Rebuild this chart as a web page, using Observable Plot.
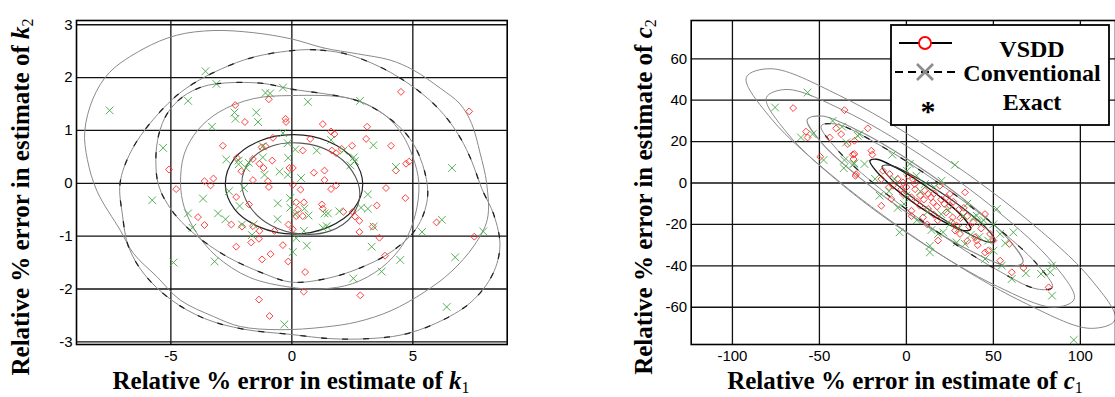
<!DOCTYPE html>
<html><head><meta charset="utf-8">
<script src="https://cdn.jsdelivr.net/npm/d3@7"></script>
<script src="https://cdn.jsdelivr.net/npm/@observablehq/plot@0.6"></script>
<style>
body{margin:0;background:#fff;}
#wrap{position:relative;width:1115px;height:397px;overflow:hidden;background:#fff;}
#wrap > svg{position:absolute;top:0;}
</style></head><body><div id="wrap"></div>
<script>
// ---------- Left panel: k1 / k2 ----------
const kTicksX = [-5, 0, 5];
const kTicksY = [-3, -2, -1, 0, 1, 2, 3];
const kVsdd = [[-2.34,1.48],[-0.95,1.59],[-1.94,1.16],[-0.26,1.22],[-0.24,1.16],[-0.78,0.86],[-2.85,0.71],[-1.25,0.68],[-1.09,0.70],[-2.27,0.48],[-1.61,0.46],[-1.34,0.37],[-1.17,0.29],[-0.81,0.43],[-2.09,0.23],[-0.1,0.29],[-5.08,0.26],[-3.61,0.04],[-3.24,0.09],[-1.61,0.06],[-0.99,0.04],
[4.51,1.73],[7.33,1.36],[1.28,1.12],[1.62,0.98],[1.76,0.93],[3.11,1.07],[0.76,0.84],[3.07,0.84],[2.49,0.71],[0.45,0.62],[1.65,0.62],[2.06,0.65],[1.83,0.57],[4.1,0.71],[4.72,0.37],[4.85,0.41],[4.3,0.24],[0.04,0.29],[0.91,0.2],[1.35,0.24],[1.35,0.06],
[-4.78,-0.11],[-3.36,-0.04],[-3.88,-0.64],[-3.61,-0.79],[-2.5,-0.78],[-2.06,-0.82],[-1.77,-0.4],[-2.3,-0.26],[-1.61,-0.81],[-1.34,-0.9],[-1.36,-1.05],[-1.68,-1.12],[-2.3,-1.2],[-0.72,-0.9],[-0.37,-1.17],[-0.14,-0.78],[-1.23,-1.44],[-0.88,-1.34],[-0.15,-1.48],[-1.36,-2.2],[-0.92,-2.51],[-0.95,-0.07],
[0.04,-0.03],[0.36,-0.12],[0.18,-0.36],[0.5,-0.36],[0.18,-0.62],[0.45,-0.62],[0.25,-0.5],[0.04,-0.87],[1.62,-0.11],[1.83,-0.04],[1.24,-0.4],[1.28,-0.48],[2.13,-0.54],[2.52,-0.54],[2.61,-0.63],[2.79,-0.71],[3.34,-0.82],[2.79,-0.92],[3.51,-0.42],[3.89,-0.09],[4.69,-0.28],[3.62,-1.03],[3.85,-1.37],[0.55,-1.68],[0.49,-2.05],[2.83,-2.12],[5.98,-0.74],[7.54,-1.01]];
const kConv = [[-3.57,2.12],[-3.12,1.88],[-4.29,1.56],[-7.53,1.38],[-1.09,1.71],[-0.9,1.70],[-0.37,1.81],[-2.37,1.34],[-2.33,1.22],[-1.47,1.34],[-1.40,1.16],[-3.3,1.07],[-0.37,0.95],[-5.32,0.67],[-1.2,0.70],[-0.17,0.76],[-2.71,0.45],[-2.2,0.43],[-2.2,0.36],[-1.78,0.39],[-1.89,0.29],[-1.2,0.49],[-0.51,0.22],[-0.15,0.48],[-0.17,0.16],[-1.13,0.16],
[0.66,1.54],[2.82,1.56],[1.62,0.82],[3.37,0.72],[0.14,0.64],[1.03,0.62],[2.56,0.49],[2.42,0.34],[2.61,0.42],[2.14,0.62],[4.3,0.31],[6.62,0.29],[0.38,0.1],
[-5.77,-0.32],[-3.67,-0.29],[-4.29,-0.57],[-4.11,-0.84],[-3.05,-0.57],[-2.74,-0.68],[-2.6,-0.15],[-2.16,-0.43],[-1.98,-0.09],[-2.06,-0.78],[-1.58,-0.78],[-1.65,-0.98],[-0.58,-0.38],[-0.59,-0.68],[-0.07,-0.28],[-0.06,-0.46],[-4.89,-1.5],[-3.19,-1.48],[-0.31,-2.67],
[0.52,-0.48],[0.69,-0.61],[0.14,-0.59],[1.35,-0.57],[1.49,-0.57],[1.96,-0.53],[2.86,-0.46],[3.14,-0.48],[3.14,-0.21],[1.28,-0.84],[1.44,-0.81],[0.5,-0.9],[0.18,-1.04],[0.04,-1.3],[0.62,-1.18],[3.38,-0.82],[3.3,-1.2],[4.48,-1.45],[3.71,-1.67],[2.54,-1.8],[5.38,-0.92],[6.2,-0.69],[7.91,-0.91],[6.75,-1.4],[6.4,-2.34]];
// contour vertices
const kOuterA = [[0,2.73],[1.32,2.56],[2.7,2.45],[4.07,2.33],[5.03,2.14],[6.13,1.8],[6.95,1.5],[7.43,1.13],[7.78,0.57],[8.05,0.0],[8.08,-0.68],[7.53,-1.18],[6.57,-1.68],[5.47,-2.06],[4.1,-2.41],[2.72,-2.62],[1.35,-2.72],[-0.48,-2.77],[-2.13,-2.71],[-3.24,-2.52],[-4.61,-2.21],[-5.57,-1.77],[-6.54,-1.33],[-7.09,-0.89],[-8.05,-0.15],[-8.45,0.45],[-8.56,0.98],[-8.21,1.61],[-7.53,2.1],[-6.15,2.54],[-4.77,2.8],[-3.26,2.89],[-1.6,2.85]];
const kOuterB = [[0,2.51],[1.2,2.52],[2.45,2.42],[4.07,2.1],[5.45,1.67],[6.28,1.3],[6.95,0.87],[7.45,0.4],[7.85,-0.1],[8.35,-0.6],[8.6,-1.18],[8.3,-1.72],[7.4,-2.25],[5.95,-2.65],[4.51,-2.87],[3.14,-2.94],[1.62,-2.94],[-0.03,-2.86],[-2.0,-2.76],[-3.6,-2.56],[-5.0,-2.2],[-6.1,-1.72],[-6.75,-1.2],[-7.0,-0.6],[-7.1,0.0],[-6.65,0.6],[-5.74,1.2],[-4.36,1.8],[-2.0,2.33]];
const kMidA = [[0,1.66],[2.45,1.6],[3.82,1.3],[4.55,0.93],[5.0,0.5],[5.25,0.0],[5.1,-0.6],[4.6,-1.15],[3.7,-1.6],[2.5,-1.9],[1.2,-2.0],[0,-1.97],[-1.75,-1.78],[-3.12,-1.38],[-3.95,-0.93],[-4.45,-0.45],[-4.6,0],[-4.45,0.55],[-3.9,1.0],[-3.0,1.35],[-1.6,1.6]];
const kMidB = [[-0.1,1.79],[-1.2,1.89],[-2.71,1.9],[-3.67,1.83],[-4.5,1.64],[-5.15,1.32],[-5.5,0.92],[-5.62,0.45],[-5.5,-0.05],[-4.95,-0.52],[-4.05,-0.95],[-2.71,-1.38],[-1.2,-1.7],[-0.03,-1.87],[1.35,-1.81],[2.72,-1.62],[4.1,-1.3],[5.15,-0.85],[5.6,-0.3],[5.5,0.2],[4.95,0.8],[4.05,1.22],[2.72,1.56]];
const kInA = [[2.93,-0.02],[2.55,0.45],[1.51,0.79],[0.09,0.92],[-1.33,0.8],[-2.37,0.47],[-2.75,-0.02],[-2.37,-0.49],[-1.33,-0.83],[0.09,-0.96],[1.51,-0.83],[2.55,-0.49]];
const kInB = [[2.81,-0.2],[2.48,0.24],[1.59,0.6],[0.37,0.76],[-0.85,0.7],[-1.74,0.42],[-2.07,0.0],[-1.74,-0.44],[-0.85,-0.8],[0.37,-0.96],[1.59,-0.9],[2.48,-0.62]];

// ---------- Right panel: c1 / c2 ----------
const cTicksX = [-100, -50, 0, 50, 100];
const cTicksY = [-60, -40, -20, 0, 20, 40, 60];
const cVsdd = [[-65.1,36.2],[-35.6,35.2],[-57.7,24.8],[-56.8,22],[-44.1,22],[-40.4,26.4],[-37.5,23.6],[-33.7,18.8],[-29.9,20.4],[-49.5,12.7],[-30.8,13.7],[-30.4,11.6],[-29.3,3.5],
[-22.2,26.4],[-29.9,14],[-20.2,15.6],[-19.6,13.7],[-28.9,4.3],[-13.5,5.9],[-14.4,1.9],[-9.6,4.3],[-2,0.3],[0.96,3.5],[3.8,1.9],[4.8,-0.5],[10.6,-3.7],[12.5,-5.3],[19.2,-1.3],[25,-5.3],[33.7,-4.5],[-7.7,-1.3],
[-14.4,-11],[-8.7,-7.7],[-2,-5.3],[2.9,-6.9],[2.9,-13.4],[7.7,-11],[9.6,-16.6],[12.5,-12.5],[15.4,-9.4],[17.7,-11.4],[21.8,-10.1],[25,-11],[22.8,-14.2],[26.6,-16.6],[15.8,-15.3],[18.2,-27.8],[26,-19],[28.9,-20.6],[30.8,-24.6],[38.5,-19],[39.4,-26.2],[40.4,-27.8],[45.2,-15],[48.1,-24.6],[50,-27.8],[45.2,-33.5],[47,-32.7],[53.9,-37.5],[59.2,-29.4],[60.6,-43.1],[67.3,-41],[81.8,-50.4],
[-5,2],[0,-2],[5,-3],[8,-6],[10,-8],[14,-7],[16,-5],[20,-8],[23,-7],[27,-9],[30,-13],[33,-12],[35,-16],[36,-21],[31,-17],[18,-18],[12,-20],[6,-9],[-3,-3],[-10,-2],[3,-16],[28,-23],[43,-22],[41,-30],[35,-28]];
const cConv = [[-56.8,43.7],[-75.5,36.5],[-60.6,22],[-53.9,23.6],[-42.4,30],[-37,27.2],[-34.6,19.6],[-28,22.8],[-47.6,11.1],[-35.6,11.1],[-36,7.2],[-29.9,9.5],
[-27,23.6],[-30.4,9.2],[-24.1,9.2],[-8.1,13.7],[1.9,9.2],[0.35,5.9],[27.9,8.8],[5.8,3.5],[-6.8,1.9],[20.2,1.1],[10.6,-0.5],
[-15.4,-6.1],[-3.9,-23.8],[-1.4,-10.1],[13.5,-30.3],[13.5,-33.5],[14.4,-22.7],[18.2,-24.6],[21.1,-23.8],[28.9,-28.7],[33.7,-29.4],[25,-19.8],[32.7,-15.8],[38.5,-16.6],[40.4,-15.8],[43.3,-19],[44.3,-17.9],[47,-27.8],[52,-12.5],[53.9,-24.6],[56.8,-29.1],[45.2,-36.7],[50,-32.7],[54.8,-39.9],[61.5,-23.8],[60.6,-46.3],[68.7,-43.6],[77.4,-43.9],[83.7,-39.9],[82.7,-43.1],[83.7,-54.4],[96.2,-75.8],
[-18,2],[-10,-4],[0,-6],[8,-4],[12,-14],[20,-15],[24,-13],[30,-22],[37,-25],[42,-26],[6,-18],[-5,-12],[16,-2],[35,-10],[50,-20]];
const cOuterA = [[120,-66],[105.8,-46.2],[67,-16],[14,16.5],[-39,42.5],[-77.8,55.2],[-92,51],[-77.8,31.2],[-39,1.0],[14,-31.5],[67,-57.5],[105.8,-70.2]];
const cOuterB = [[96.5,-56],[84.6,-39],[52.25,-13.5],[8,13.6],[-36.25,35.1],[-68.6,45.2],[-80.5,41.2],[-68.6,24.2],[-36.25,-1.3],[8,-28.4],[52.25,-49.9],[84.6,-60]];
const cMidA = [[67,-38.3],[58.7,-27.2],[36,-9.8],[5,9.1],[-26,24.6],[-48.7,32.4],[-57,30.5],[-48.7,19.4],[-26,2.0],[5,-16.9],[36,-32.4],[58.7,-40.2]];
const cMidB = [[84,-50.4],[75.1,-39.2],[50.75,-20.5],[17.5,0.6],[-15.75,18.5],[-40.1,28.4],[-49,27.6],[-40.1,16.4],[-15.75,-2.3],[17.5,-23.4],[50.75,-41.3],[75.1,-51.2]];
const cInA = [[37,-22.2],[33.1,-17],[22.5,-8.75],[8,0.25],[-6.5,7.65],[-17.1,11.5],[-21,10.7],[-17.1,5.5],[-6.5,-2.75],[8,-11.75],[22.5,-19.15],[33.1,-23]];
const cInB = [[51,-27.8],[46.6,-22.4],[34.75,-13.65],[18.5,-3.9],[2.25,4.25],[-9.6,8.6],[-14,8],[-9.6,2.6],[2.25,-6.15],[18.5,-15.9],[34.75,-24.05],[46.6,-28.4]];

const RED = "#ff2a2a", GREEN = "#45a845";
const fmt = d => String(d);

function contour(pts, opts) {
  return Plot.line(pts, {x: d => d[0], y: d => d[1], curve: "catmull-rom-closed", clip: true, ...opts});
}
function solid(pts, stroke, w) { return [contour(pts, {stroke, strokeWidth: w})]; }
function dashed(pts, stroke, w) {
  return [contour(pts, {stroke: "#8a8a8a", strokeWidth: 1}),
          contour(pts, {stroke, strokeWidth: w, strokeDasharray: "5,16"})];
}

function panel(cfg) {
  return Plot.plot({
    width: cfg.width, height: 397,
    marginLeft: cfg.ml, marginRight: cfg.mr, marginTop: 20, marginBottom: 53,
    style: {fontFamily: "Liberation Sans, Arial, sans-serif", fontSize: "15px", color: "#000", background: "transparent", overflow: "visible"},
    x: {domain: cfg.xd, ticks: cfg.tx, tickFormat: fmt, tickSize: 0, tickPadding: 6, label: null},
    y: {domain: cfg.yd, ticks: cfg.ty, tickFormat: fmt, tickSize: 0, tickPadding: 4, label: null},
    marks: [
      Plot.ruleX(cfg.tx, {stroke: "#111", strokeWidth: 1.3}),
      Plot.ruleY(cfg.ty, {stroke: "#111", strokeWidth: 1.3}),
      ...cfg.lines,
      Plot.dot(cfg.red, {x: d => d[0], y: d => d[1], symbol: "diamond2", r: 3.1, stroke: RED, strokeWidth: 0.9, clip: true}),
      Plot.dot(cfg.green, {x: d => d[0], y: d => d[1], symbol: "times", r: 3.6, stroke: GREEN, strokeWidth: 0.9, clip: true}),
      Plot.frame({stroke: "#000", strokeWidth: 1.6})
    ]
  });
}

const left = panel({
  width: 520, ml: 76, mr: 13.3, xd: [-8.9, 8.9], yd: [-3.05, 3.08], tx: kTicksX, ty: kTicksY,
  red: kVsdd, green: kConv,
  lines: [...solid(kOuterA, "#8a8a8a", 1), ...dashed(kOuterB, "#222", 1.3),
          ...solid(kMidA, "#8a8a8a", 1), ...dashed(kMidB, "#222", 1.3),
          ...solid(kInA, "#222", 1.2), ...solid(kInB, "#555", 1.1)]
});
const right = panel({
  width: 515, ml: 90.7, mr: 0, xd: [-123.7, 120.2], yd: [-78, 78.5], tx: cTicksX, ty: cTicksY,
  red: cVsdd, green: cConv,
  lines: [...solid(cOuterA, "#8a8a8a", 1), ...solid(cOuterB, "#8a8a8a", 1),
          ...solid(cMidA, "#8a8a8a", 1.1), ...dashed(cMidB, "#222", 1.3),
          ...solid(cInA, "#111", 1.4), ...solid(cInB, "#333", 1.2)]
});

const wrap = document.getElementById("wrap");
left.style.left = "0px";
right.style.left = "600px";
wrap.appendChild(left);
wrap.appendChild(right);

const SERIF = "Liberation Serif, Times New Roman, serif";
function axisLabel(svg, x, y, rotate, sym, sub) {
  const t = d3.select(svg).append("text")
    .attr("transform", `translate(${x},${y})` + (rotate ? " rotate(-90)" : ""))
    .attr("text-anchor", "middle").attr("font-family", SERIF).attr("font-weight", "bold")
    .attr("font-size", 25).attr("fill", "#000");
  t.append("tspan").text("Relative % error in estimate of ");
  t.append("tspan").attr("font-style", "italic").text(sym);
  t.append("tspan").attr("font-size", 16).attr("font-weight", "normal").attr("dy", 4).text(sub);
}
axisLabel(left, 291, 389, false, "k", "1");
axisLabel(left, 29, 197, true, "k", "2");
axisLabel(right, 305, 389, false, "c", "1");
axisLabel(right, 52, 197, true, "c", "2");

// legend (inside the right panel)
const lg = d3.select(right).append("g");
lg.append("rect").attr("x", 291).attr("y", 25).attr("width", 218).attr("height", 100)
  .attr("fill", "#fff").attr("stroke", "#000").attr("stroke-width", 1.8);
lg.append("line").attr("x1", 299).attr("x2", 352).attr("y1", 43).attr("y2", 43).attr("stroke", "#000").attr("stroke-width", 1.8);
lg.append("circle").attr("cx", 325).attr("cy", 43).attr("r", 6).attr("fill", "#fff").attr("stroke", "#f00").attr("stroke-width", 1.8);
lg.append("line").attr("x1", 295).attr("x2", 355).attr("y1", 72).attr("y2", 72).attr("stroke", "#000").attr("stroke-width", 1.8).attr("stroke-dasharray", "8,5");
lg.append("path").attr("d", "M317,64L333,80M333,64L317,80").attr("stroke", "#8c8c8c").attr("stroke-width", 2.6);
lg.append("text").attr("x", 328).attr("y", 121).attr("text-anchor", "middle").attr("font-family", SERIF).attr("font-weight", "bold").attr("font-size", 30).text("*");
const lt = [["VSDD", 57], ["Conventional", 81], ["Exact", 110]];
lt.forEach(([s, y]) => lg.append("text").attr("x", 432).attr("y", y).attr("text-anchor", "middle")
  .attr("font-family", SERIF).attr("font-weight", "bold").attr("font-size", 24).text(s));
</script>
</body></html>
